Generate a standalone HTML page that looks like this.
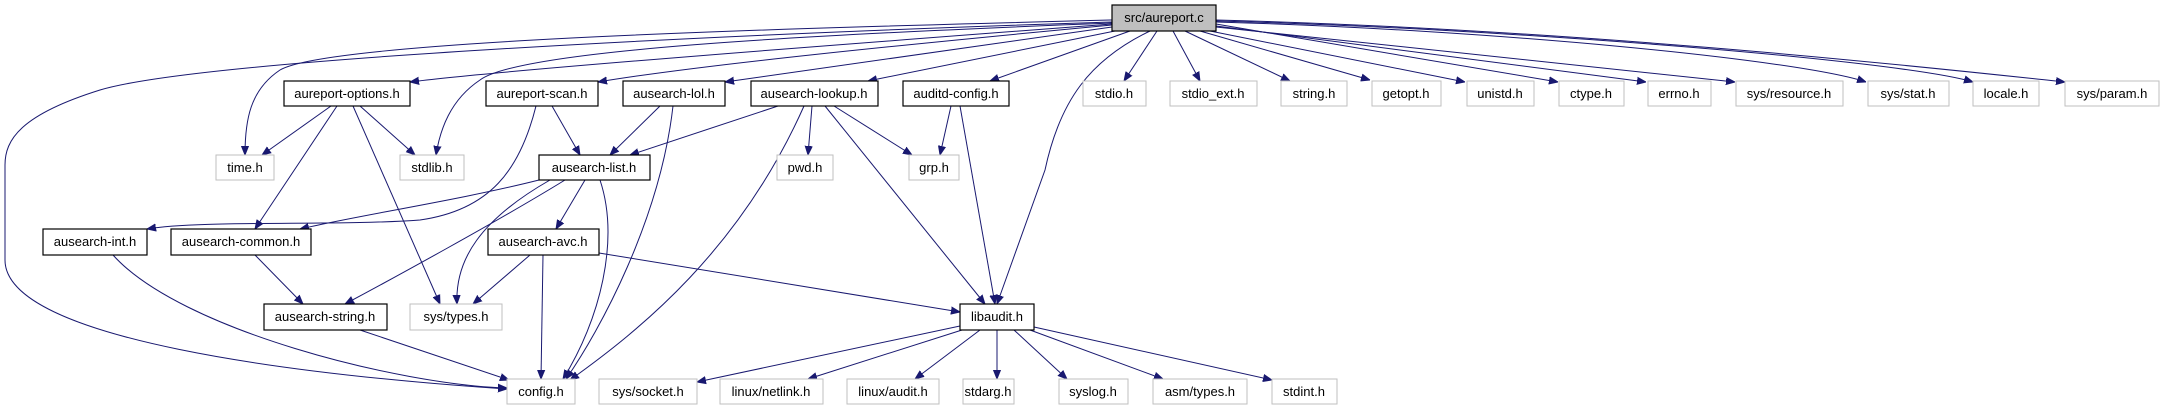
<!DOCTYPE html>
<html><head><meta charset="utf-8"><style>
html,body{margin:0;padding:0;background:#fff;}
svg{display:block;}
text{font-family:"Liberation Sans",sans-serif;font-size:13px;fill:#000;text-anchor:middle;}
.n rect{fill:#fff;stroke:#000;stroke-width:1.2;}
.g rect{fill:#fff;stroke:#bfbfbf;stroke-width:1;}
path.e{fill:none;stroke:#191970;stroke-width:1;marker-end:url(#a);}
</style></head><body>
<svg width="2160" height="411" viewBox="0 0 2160 411" xmlns="http://www.w3.org/2000/svg">
<defs><marker id="a" viewBox="0 0 10 10" refX="10" refY="5" markerWidth="9" markerHeight="9" orient="auto" markerUnits="userSpaceOnUse"><path d="M0,1 L10,5 L0,9 z" fill="#191970" stroke="#191970"/></marker></defs>
<!-- edges from src -->
<path class="e" d="M1112,20 C800,28 330,40 280,70 C250,90 245,120 245,155"/>
<path class="e" d="M1112,22 C700,35 200,60 100,90 C20,115 5,140 5,165 L5,260 C5,340 300,375 507,389"/>
<path class="e" d="M1112,23 C800,35 520,50 480,80 C450,100 440,130 436,155"/>
<path class="e" d="M1112,24 C900,40 500,70 410,82"/>
<path class="e" d="M1112,25 C900,45 700,65 598,82"/>
<path class="e" d="M1112,27 L725,82"/>
<path class="e" d="M1115,31 L868,81"/>
<path class="e" d="M1130,31 L990,81"/>
<path class="e" d="M1150,31 C1090,60 1060,100 1045,170 L997,304"/>
<path class="e" d="M1157,31 L1124,81"/>
<path class="e" d="M1173,31 L1200,81"/>
<path class="e" d="M1185,31 L1290,81"/>
<path class="e" d="M1200,31 L1370,80"/>
<path class="e" d="M1210,31 L1465,82"/>
<path class="e" d="M1216,24 L1558,82"/>
<path class="e" d="M1216,26 L1646,82"/>
<path class="e" d="M1216,27 L1735,82"/>
<path class="e" d="M1216,22 C1500,30 1800,60 1866,82"/>
<path class="e" d="M1216,21 C1500,28 1900,60 1973,82"/>
<path class="e" d="M1216,20 C1600,30 1950,70 2065,82"/>
<!-- level 2 -->
<path class="e" d="M331,106 L262,155"/>
<path class="e" d="M360,106 L415,155"/>
<path class="e" d="M337,106 L255,229"/>
<path class="e" d="M353,106 L440,304"/>
<path class="e" d="M552,106 L580,155"/>
<path class="e" d="M536,106 C520,170 490,210 420,220 C340,226 200,220 147,229"/>
<path class="e" d="M660,106 L610,155"/>
<path class="e" d="M673,106 C660,220 600,330 566,379"/>
<path class="e" d="M778,106 L630,155"/>
<path class="e" d="M812,106 L808,155"/>
<path class="e" d="M834,106 L912,155"/>
<path class="e" d="M825,106 L985,304"/>
<path class="e" d="M804,106 C740,250 640,330 570,380"/>
<path class="e" d="M951,106 L940,155"/>
<path class="e" d="M960,106 L995,304"/>
<path class="e" d="M539,180 C460,200 360,215 300,229"/>
<path class="e" d="M565,180 C500,220 390,280 345,304"/>
<path class="e" d="M550,180 C480,220 455,260 457,304"/>
<path class="e" d="M585,180 L556,229"/>
<path class="e" d="M600,180 C620,240 600,320 563,379"/>
<path class="e" d="M113,255 C180,330 400,385 507,388"/>
<path class="e" d="M255,255 L303,304"/>
<path class="e" d="M530,255 L473,304"/>
<path class="e" d="M543,255 L541,379"/>
<path class="e" d="M599,253 L960,312"/>
<path class="e" d="M360,330 L509,380"/>
<path class="e" d="M960,326 L697,382"/>
<path class="e" d="M962,330 L808,379"/>
<path class="e" d="M980,330 L915,379"/>
<path class="e" d="M997,330 L997,379"/>
<path class="e" d="M1014,330 L1067,379"/>
<path class="e" d="M1030,330 L1163,379"/>
<path class="e" d="M1034,327 L1272,380"/>
<!-- nodes -->
<g><rect x="1112" y="5" width="104" height="26" fill="#bfbfbf" stroke="#000" stroke-width="1.2"/><text x="1164" y="22">src/aureport.c</text></g>
<g class="n"><rect x="284" y="81" width="126" height="25"/><text x="347" y="98">aureport-options.h</text></g>
<g class="n"><rect x="486" y="81" width="112" height="25"/><text x="542" y="98">aureport-scan.h</text></g>
<g class="n"><rect x="623" y="81" width="102" height="25"/><text x="674" y="98">ausearch-lol.h</text></g>
<g class="n"><rect x="751" y="81" width="127" height="25"/><text x="814" y="98">ausearch-lookup.h</text></g>
<g class="n"><rect x="903" y="81" width="106" height="25"/><text x="956" y="98">auditd-config.h</text></g>
<g class="g"><rect x="1083" y="81" width="63" height="25"/><text x="1114" y="98">stdio.h</text></g>
<g class="g"><rect x="1170" y="81" width="87" height="25"/><text x="1213" y="98">stdio_ext.h</text></g>
<g class="g"><rect x="1281" y="81" width="66" height="25"/><text x="1314" y="98">string.h</text></g>
<g class="g"><rect x="1372" y="81" width="69" height="25"/><text x="1406" y="98">getopt.h</text></g>
<g class="g"><rect x="1467" y="81" width="67" height="25"/><text x="1500" y="98">unistd.h</text></g>
<g class="g"><rect x="1559" y="81" width="65" height="25"/><text x="1591" y="98">ctype.h</text></g>
<g class="g"><rect x="1648" y="81" width="63" height="25"/><text x="1679" y="98">errno.h</text></g>
<g class="g"><rect x="1736" y="81" width="107" height="25"/><text x="1789" y="98">sys/resource.h</text></g>
<g class="g"><rect x="1868" y="81" width="81" height="25"/><text x="1908" y="98">sys/stat.h</text></g>
<g class="g"><rect x="1973" y="81" width="66" height="25"/><text x="2006" y="98">locale.h</text></g>
<g class="g"><rect x="2065" y="81" width="94" height="25"/><text x="2112" y="98">sys/param.h</text></g>
<g class="g"><rect x="216" y="155" width="58" height="25"/><text x="245" y="172">time.h</text></g>
<g class="g"><rect x="400" y="155" width="64" height="25"/><text x="432" y="172">stdlib.h</text></g>
<g class="n"><rect x="539" y="155" width="111" height="25"/><text x="594" y="172">ausearch-list.h</text></g>
<g class="g"><rect x="777" y="155" width="56" height="25"/><text x="805" y="172">pwd.h</text></g>
<g class="g"><rect x="909" y="155" width="50" height="25"/><text x="934" y="172">grp.h</text></g>
<g class="n"><rect x="43" y="229" width="104" height="26"/><text x="95" y="246">ausearch-int.h</text></g>
<g class="n"><rect x="171" y="229" width="140" height="26"/><text x="241" y="246">ausearch-common.h</text></g>
<g class="n"><rect x="488" y="229" width="111" height="26"/><text x="543" y="246">ausearch-avc.h</text></g>
<g class="n"><rect x="264" y="304" width="123" height="26"/><text x="325" y="321">ausearch-string.h</text></g>
<g class="g"><rect x="410" y="304" width="92" height="26"/><text x="456" y="321">sys/types.h</text></g>
<g class="n"><rect x="960" y="304" width="74" height="26"/><text x="997" y="321">libaudit.h</text></g>
<g class="g"><rect x="507" y="379" width="68" height="25"/><text x="541" y="396">config.h</text></g>
<g class="g"><rect x="599" y="379" width="98" height="25"/><text x="648" y="396">sys/socket.h</text></g>
<g class="g"><rect x="720" y="379" width="103" height="25"/><text x="771" y="396">linux/netlink.h</text></g>
<g class="g"><rect x="847" y="379" width="92" height="25"/><text x="893" y="396">linux/audit.h</text></g>
<g class="g"><rect x="963" y="379" width="51" height="25"/><text x="988" y="396">stdarg.h</text></g>
<g class="g"><rect x="1059" y="379" width="69" height="25"/><text x="1093" y="396">syslog.h</text></g>
<g class="g"><rect x="1153" y="379" width="94" height="25"/><text x="1200" y="396">asm/types.h</text></g>
<g class="g"><rect x="1272" y="379" width="65" height="25"/><text x="1304" y="396">stdint.h</text></g>
</svg>
</body></html>
